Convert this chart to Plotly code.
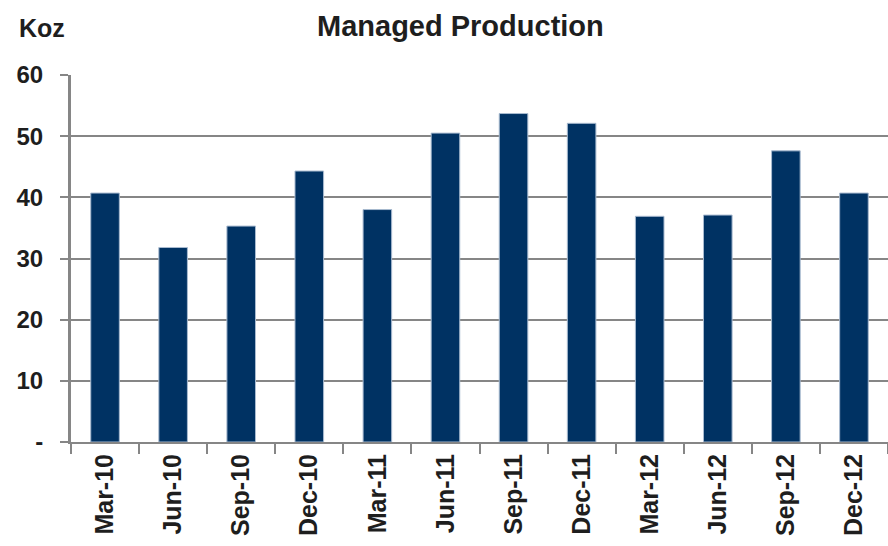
import plotly.graph_objects as go

# Quarterly managed production (thousand ounces)
quarters = ["Mar-10", "Jun-10", "Sep-10", "Dec-10", "Mar-11", "Jun-11",
            "Sep-11", "Dec-11", "Mar-12", "Jun-12", "Sep-12", "Dec-12"]
production_koz = [40.7, 31.8, 35.3, 44.3, 38.0, 50.5,
                  53.7, 52.1, 36.9, 37.1, 47.6, 40.7]

y_tick_vals = [0, 10, 20, 30, 40, 50, 60]
y_tick_text = ["-", "10", "20", "30", "40", "50", "60"]

FONT = "Arial, 'Liberation Sans', sans-serif"
NAVY = "#003263"
GRID = "#868686"
TEXT = "#1e1e1e"

fig = go.Figure(
    go.Bar(
        x=quarters,
        y=production_koz,
        width=0.42,
        marker=dict(color=NAVY, line=dict(color="#a9bbd0", width=1)),
        hoverinfo="x+y",
    )
)

fig.update_layout(
    width=888,
    height=546,
    margin=dict(l=71, r=0, t=75, b=104),
    paper_bgcolor="white",
    plot_bgcolor="white",
    showlegend=False,
    font=dict(family=FONT, color=TEXT),
)

fig.update_xaxes(
    type="category",
    tickson="boundaries",
    ticks="outside",
    ticklen=10,
    tickwidth=2,
    tickcolor=GRID,
    tickangle=-90,
    tickfont=dict(family=FONT, size=25, color=TEXT, weight="bold"),
    showline=True,
    linecolor=GRID,
    linewidth=2,
    showgrid=False,
    zeroline=False,
)

fig.update_yaxes(
    range=[0, 60],
    tickvals=y_tick_vals,
    ticktext=y_tick_text,
    ticks="outside",
    ticklen=8,
    tickwidth=2,
    tickcolor=GRID,
    tickfont=dict(family=FONT, size=24, color=TEXT, weight="bold"),
    ticklabelstandoff=12,
    showline=True,
    linecolor=GRID,
    linewidth=3,
    showgrid=True,
    gridcolor=GRID,
    gridwidth=2,
    zeroline=False,
)

fig.add_annotation(
    text="Managed Production",
    xref="paper", yref="paper",
    x=(460 - 71) / 817, y=1,
    yshift=49,
    xanchor="center", yanchor="middle",
    showarrow=False,
    font=dict(family=FONT, size=29, color=TEXT, weight="bold"),
)

fig.add_annotation(
    text="Koz",
    xref="paper", yref="paper",
    x=0, y=1,
    xshift=-54, yshift=47,
    xanchor="left", yanchor="middle",
    showarrow=False,
    font=dict(family=FONT, size=25, color=TEXT, weight="bold"),
)

fig.write_html("out.html")
